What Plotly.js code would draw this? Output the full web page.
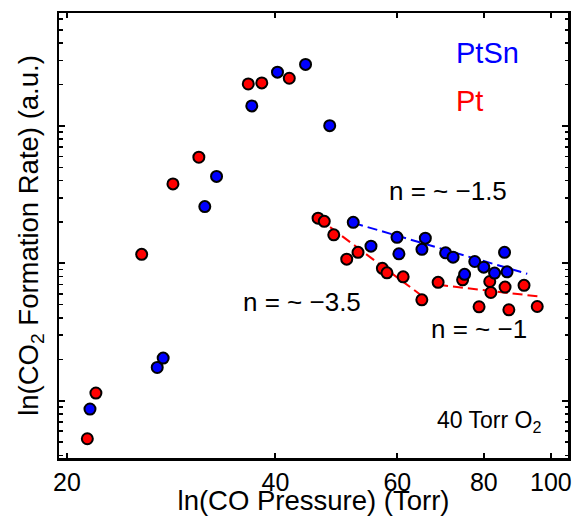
<!DOCTYPE html>
<html>
<head>
<meta charset="utf-8">
<script src="https://cdn.plot.ly/plotly-3.0.1.min.js"></script>
<style>
html,body{margin:0;padding:0;background:#fff;}
#chart{width:577px;height:516px;}
</style>
</head>
<body>
<div id="chart"></div>
<script>
// CO pressure (Torr) and CO2 formation rate (a.u.)
const ptsnPressure = [21.59, 27.00, 27.54, 31.63, 32.89, 36.98, 40.28, 44.22, 47.92, 51.82, 54.97, 59.94, 60.32, 65.12, 65.86, 70.46, 72.23, 77.63, 79.99, 82.92, 86.43, 85.71, 75.05];
const ptsnRate     = [0.870, 1.747, 2.044, 25.89, 42.93, 139.8, 246.2, 280.2, 100.5, 19.87, 13.34, 15.46, 11.72, 12.64, 15.25, 11.92, 11.09, 10.31, 9.384, 8.487, 8.674, 12.02, 8.318];

const ptPressure = [21.40, 22.02, 25.64, 28.45, 31.01, 36.55, 38.23, 41.89, 46.10, 47.06, 48.57, 50.71, 52.65, 57.09, 57.97, 61.18, 65.10, 68.72, 74.55, 81.60, 81.90, 85.86, 91.45, 78.75, 86.95, 95.56];
const ptRate     = [0.529, 1.138, 11.63, 37.86, 59.21, 202.0, 205.5, 222.3, 21.32, 20.20, 16.12, 10.73, 12.02, 9.197, 8.530, 7.976, 5.427, 7.274, 7.586, 7.373, 6.133, 6.713, 6.918, 4.827, 4.590, 4.851];

// power-law fit guide lines (end points)
const fitPtSnX = [51.82, 92.44];
const fitPtSnY = [19.70, 8.389];
const fitPtSteepX = [46.10, 64.95];
const fitPtSteepY = [21.32, 5.851];
const fitPtShallowX = [68.71, 96.07];
const fitPtShallowY = [6.976, 5.735];

const xTicks = [20, 40, 60, 80, 100];

const BLUE = 'rgb(0,0,255)';
const RED = 'rgb(255,0,0)';
const FONT = 'Liberation Sans, Arial, Helvetica, sans-serif';

const markerStyle = c => ({symbol: 'circle', size: 11, color: c, line: {color: 'black', width: 2}});

const traces = [
  {x: fitPtSnX, y: fitPtSnY, mode: 'lines', line: {color: BLUE, width: 2, dash: '10px,5px'}, hoverinfo: 'skip', showlegend: false},
  {x: fitPtSteepX, y: fitPtSteepY, mode: 'lines', line: {color: RED, width: 2, dash: '10px,5px'}, hoverinfo: 'skip', showlegend: false},
  {x: fitPtShallowX, y: fitPtShallowY, mode: 'lines', line: {color: RED, width: 2, dash: '10px,5px'}, hoverinfo: 'skip', showlegend: false},
  {x: ptPressure, y: ptRate, mode: 'markers', name: 'Pt', marker: markerStyle(RED), showlegend: false},
  {x: ptsnPressure, y: ptsnRate, mode: 'markers', name: 'PtSn', marker: markerStyle(BLUE), showlegend: false}
];

const layout = {
  width: 577, height: 516,
  margin: {l: 59, r: 9, t: 13, b: 58, pad: 0},
  paper_bgcolor: 'white', plot_bgcolor: 'white',
  font: {family: FONT, color: 'black', size: 25},
  showlegend: false,
  xaxis: {
    type: 'log',
    range: [1.2895, 2.0247],
    tickmode: 'array', tickvals: xTicks, ticktext: xTicks.map(String),
    ticks: 'inside', ticklen: 5, tickwidth: 2, tickcolor: 'black',
    showline: true, linecolor: 'black', linewidth: 2.5, mirror: 'ticks',
    showgrid: false, zeroline: false,
    tickfont: {size: 25, family: FONT},
    title: {text: 'ln(CO Pressure) (Torr)', font: {size: 27.5, family: FONT}, standoff: 3}
  },
  yaxis: {
    type: 'log',
    range: [-0.4167, 2.8218],
    dtick: 1,
    showticklabels: false,
    ticks: 'inside', ticklen: 6, tickwidth: 2, tickcolor: 'black',
    minor: {dtick: 'D1', ticks: 'inside', ticklen: 3.5, tickwidth: 1.5, tickcolor: 'black', showgrid: false},
    showline: true, linecolor: 'black', linewidth: 2.5, mirror: 'ticks',
    showgrid: false, zeroline: false,
    title: {text: 'ln(CO<sub>2</sub> Formation Rate) (a.u.)', font: {size: 27.5, family: FONT}, standoff: 10}
  },
  annotations: [
    {xref: 'paper', yref: 'paper', x: 0.7754, y: 0.9101, xanchor: 'left', yanchor: 'middle', text: 'PtSn', showarrow: false, font: {size: 29, color: BLUE, family: FONT}},
    {xref: 'paper', yref: 'paper', x: 0.7754, y: 0.8022, xanchor: 'left', yanchor: 'middle', text: 'Pt', showarrow: false, font: {size: 29, color: RED, family: FONT}},
    {xref: 'paper', yref: 'paper', x: 0.6450, y: 0.6011, xanchor: 'left', yanchor: 'middle', text: 'n = ~ \u22121.5', showarrow: false, font: {size: 26, color: 'black', family: FONT}},
    {xref: 'paper', yref: 'paper', x: 0.3576, y: 0.3512, xanchor: 'left', yanchor: 'middle', text: 'n = ~ \u22123.5', showarrow: false, font: {size: 26, color: 'black', family: FONT}},
    {xref: 'paper', yref: 'paper', x: 0.7263, y: 0.2888, xanchor: 'left', yanchor: 'middle', text: 'n = ~ \u22121', showarrow: false, font: {size: 26, color: 'black', family: FONT}},
    {xref: 'paper', yref: 'paper', x: 0.7380, y: 0.0830, xanchor: 'left', yanchor: 'middle', text: '40 Torr O<sub>2</sub>', showarrow: false, font: {size: 23, color: 'black', family: FONT}}
  ]
};

Plotly.newPlot('chart', traces, layout, {staticPlot: true, displayModeBar: false});
</script>
</body>
</html>
